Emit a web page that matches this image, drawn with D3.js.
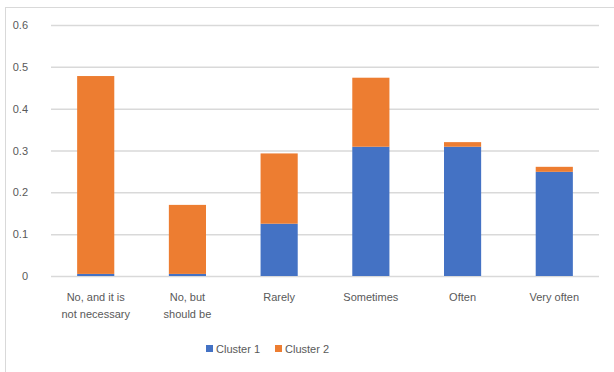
<!DOCTYPE html>
<html><head><meta charset="utf-8">
<script src="https://cdn.jsdelivr.net/npm/d3@7"></script>
<style>body{margin:0;background:#fff}svg{display:block}text{font-family:"Liberation Sans",Arial,sans-serif;fill:#595959}</style>
</head><body>
<svg id="c" width="614" height="372"></svg>
<script>
const categories = ["No, and it is|not necessary", "No, but|should be", "Rarely", "Sometimes", "Often", "Very often"];
const cluster1 = [0.005, 0.005, 0.125, 0.309, 0.309, 0.249];
const cluster2 = [0.473, 0.165, 0.168, 0.165, 0.011, 0.012];
const seriesNames = ["Cluster 1", "Cluster 2"];
const colors = ["#4472C4", "#ED7D31"];
const yTicks = [0, 0.1, 0.2, 0.3, 0.4, 0.5, 0.6];

(function () {
const svg = d3.select("#c");
svg.append("rect").attr("x", 5.5).attr("y", 7.5).attr("width", 640).attr("height", 400)
  .attr("fill", "none").attr("stroke", "#d9d9d9");

const pl = 51, pr = 599, pt = 25, pb = 276;
const x = d3.scaleBand().domain(categories).range([pl, pr]).paddingInner(0.595).paddingOuter(0.285);
const y = d3.scaleLinear().domain([0, 0.6]).range([pb, pt]);

const gy = svg.append("g").attr("transform", `translate(${pl},0)`)
  .call(d3.axisLeft(y).tickValues(yTicks).tickSize(-(pr - pl)).tickFormat(d => d === 0 ? "0" : d3.format(".1f")(d)).tickPadding(23));
gy.select(".domain").remove();
gy.selectAll("line").attr("stroke", "#d9d9d9").attr("stroke-width", 1.5);
gy.selectAll("text").attr("font-size", 11).attr("fill", "#595959").attr("font-family", "Liberation Sans, Arial, sans-serif");

const data = categories.map((c, i) => ({cat: c, "Cluster 1": cluster1[i], "Cluster 2": cluster2[i]}));
const stacked = d3.stack().keys(seriesNames)(data);
svg.append("g").selectAll("g").data(stacked).join("g").attr("fill", (d, i) => colors[i])
  .selectAll("rect").data(d => d).join("rect")
  .attr("x", d => x(d.data.cat)).attr("width", x.bandwidth())
  .attr("y", d => y(d[1])).attr("height", d => y(d[0]) - y(d[1]));

const gx = svg.append("g");
categories.forEach(c => {
  const lines = c.split("|");
  const cx = x(c) + x.bandwidth() / 2;
  const t = gx.append("text").attr("x", cx).attr("y", 301)
    .attr("text-anchor", "middle").attr("font-size", 11);
  lines.forEach((l, j) => t.append("tspan").attr("x", cx).attr("dy", j === 0 ? 0 : 17).text(l));
});

const legX = [206, 275];
seriesNames.forEach((n, i) => {
  svg.append("rect").attr("x", legX[i]).attr("y", 345).attr("width", 7).attr("height", 7).attr("fill", colors[i]);
  svg.append("text").attr("x", legX[i] + 10).attr("y", 353).attr("font-size", 11).text(n);
});
})();
</script>
</body></html>
